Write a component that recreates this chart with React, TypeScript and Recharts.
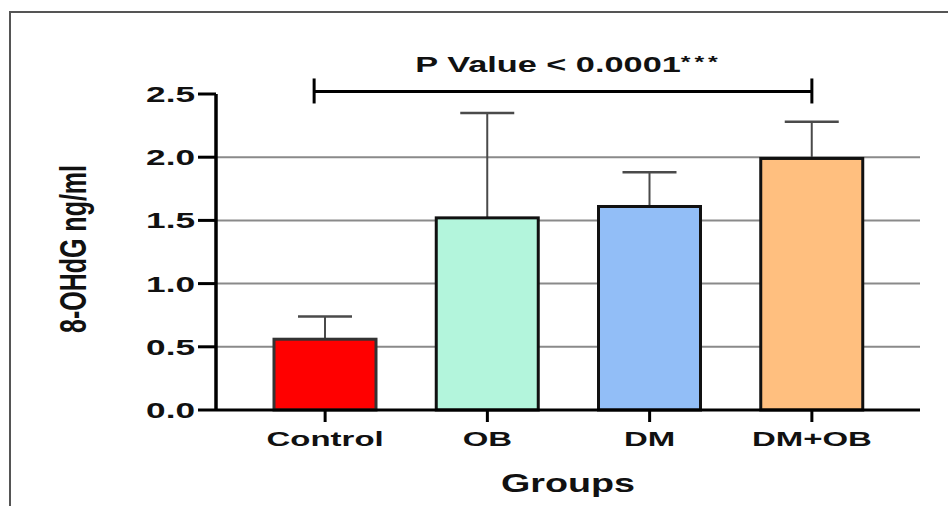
import React from "react";
import { BarChart, Bar, XAxis, YAxis, CartesianGrid, ReferenceLine } from "recharts";

const groups = ["Control", "OB", "DM", "DM+OB"];
const means = [0.56, 1.52, 1.61, 1.99];
const sds = [0.18, 0.83, 0.27, 0.29];
const yTicks = [0, 0.5, 1.0, 1.5, 2.0, 2.5];
const gridValues = [0.5, 1.0, 1.5, 2.0];
const fills = ["#ff0000", "#b3f5dc", "#92bef7", "#ffbf7f"];
const strokes = ["#333333", "#111111", "#111111", "#111111"];
const pValueText = "P Value < 0.0001";
const pValueStars = "***";
const bracketLevel = 2.52;
const yTitle = "8-OHdG ng/ml";
const xTitle = "Groups";

const data = groups.map((g, i) => ({ group: g, mean: means[i], sd: sds[i] }));

const FONT = "'Liberation Sans', Arial, Helvetica, sans-serif";
const INK = "#111";

// text in the original is stretched sideways, so scale x on every label
function Stretched({ x, y, sx, size, anchor = "middle", dy = "0", children, rotate }: any) {
  const t = `translate(${x},${y}) scale(${sx},1)${rotate ? ` rotate(${rotate})` : ""}`;
  return (
    <text
      transform={t}
      textAnchor={anchor}
      dy={dy}
      fontFamily={FONT}
      fontWeight="bold"
      fontSize={size}
      fill={INK}
    >
      {children}
    </text>
  );
}

const YTick = (props: any) => {
  const { x, y, payload } = props;
  return (
    <Stretched x={x} y={y} sx={1.6} size={22} anchor="end" dy="0.36em">
      {Number(payload.value).toFixed(1)}
    </Stretched>
  );
};

const XTick = (props: any) => {
  const { x, y, payload } = props;
  return (
    <Stretched x={x} y={y} sx={1.57} size={21} dy="0.71em">
      {payload.value}
    </Stretched>
  );
};

const YTitle = (props: any) => {
  const vb = props.viewBox ?? { x: 96, y: 94, width: 120, height: 316 };
  return (
    <Stretched x={73} y={vb.y + vb.height / 2 - 3} sx={1.45} size={25} dy="0.36em" rotate={-90}>
      {yTitle}
    </Stretched>
  );
};

const XTitle = (props: any) => {
  const vb = props.viewBox ?? { x: 217, y: 410, width: 703, height: 60 };
  return (
    <Stretched x={vb.x + vb.width / 2} y={492} sx={1.45} size={26}>
      {xTitle}
    </Stretched>
  );
};

// bar rect plus the upper SD whisker, sized from the bar's own pixel scale
const BarWithError = (props: any) => {
  const { x, y, width, height, payload, index } = props;
  const perUnit = payload.mean > 0 ? height / payload.mean : 0;
  const top = y - payload.sd * perUnit;
  const cx = x + width / 2;
  return (
    <g>
      <line x1={cx} x2={cx} y1={y} y2={top} stroke="#4a4a4a" strokeWidth={2} />
      <line x1={cx - 27} x2={cx + 27} y1={top} y2={top} stroke="#4a4a4a" strokeWidth={2.5} />
      <rect
        x={x}
        y={y}
        width={width}
        height={height}
        fill={fills[index]}
        stroke={strokes[index]}
        strokeWidth={3}
      />
    </g>
  );
};

const Bracket = (props: any) => {
  const { x1, y1, x2 } = props;
  const left = x1 - 11;
  const mid = (x1 + x2) / 2;
  return (
    <g>
      <line x1={left} x2={x2} y1={y1} y2={y1} stroke="#000" strokeWidth={3} />
      <line x1={left} x2={left} y1={y1 - 13} y2={y1 + 12} stroke="#000" strokeWidth={3} />
      <line x1={x2} x2={x2} y1={y1 - 13} y2={y1 + 12} stroke="#000" strokeWidth={3} />
      <Stretched x={mid} y={y1 - 19} sx={1.56} size={22}>
        {pValueText}
        <tspan fontSize={16} dy={-4} letterSpacing={2.5}>
          {pValueStars}
        </tspan>
      </Stretched>
    </g>
  );
};

export default function App() {
  return (
    <div
      style={{
        position: "absolute",
        left: 0,
        top: 0,
        width: 948,
        height: 506,
        background: "#fff",
        overflow: "hidden",
      }}
    >
      <div
        style={{
          position: "absolute",
          left: 9,
          top: 11,
          width: 960,
          height: 520,
          borderLeft: "2px solid #555",
          borderTop: "2px solid #555",
        }}
      />
      <div style={{ position: "absolute", left: 0, top: 0 }}>
        <BarChart
          width={948}
          height={506}
          data={data}
          margin={{ top: 94, right: 28, bottom: 36, left: 96 }}
        >
          <CartesianGrid
            vertical={false}
            horizontalValues={gridValues}
            stroke="#8a8a8a"
            strokeWidth={2}
          />
          <XAxis
            dataKey="group"
            height={60}
            padding={{ left: 28, right: 27 }}
            axisLine={{ stroke: "#000", strokeWidth: 3 }}
            tickLine={{ stroke: "#000", strokeWidth: 3 }}
            tickSize={12}
            tickMargin={9}
            tick={<XTick />}
            label={<XTitle />}
          />
          <YAxis
            width={120}
            domain={[0, 2.5]}
            ticks={yTicks}
            interval={0}
            axisLine={{ stroke: "#000", strokeWidth: 3.5 }}
            tickLine={{ stroke: "#000", strokeWidth: 3 }}
            tickSize={18}
            tickMargin={3}
            tick={<YTick />}
            label={<YTitle />}
          />
          <Bar dataKey="mean" barSize={102} shape={<BarWithError />} isAnimationActive={false} />
          <ReferenceLine
            segment={[
              { x: groups[0], y: bracketLevel },
              { x: groups[groups.length - 1], y: bracketLevel },
            ]}
            ifOverflow="visible"
            shape={<Bracket />}
          />
        </BarChart>
      </div>
    </div>
  );
}
